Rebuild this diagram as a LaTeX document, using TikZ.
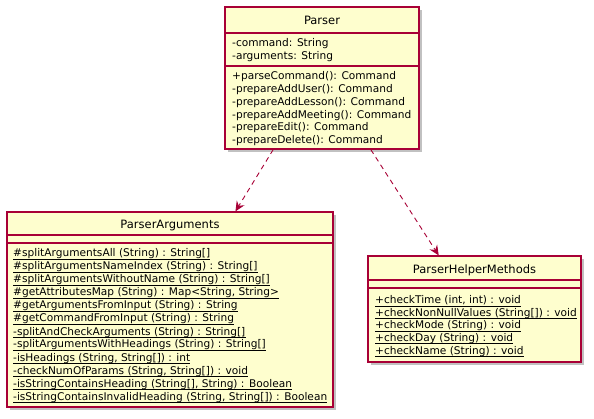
\documentclass[tikz,border=0pt]{standalone}
\usepackage{fontspec}
\newfontfamily\umlfont{DejaVu Sans}
\usetikzlibrary{shadows,arrows.meta,calc}
\definecolor{umlfill}{HTML}{FEFECE}
\definecolor{umlline}{HTML}{A80036}

\begin{document}
\begin{tikzpicture}[
		x=1pt, y=-1pt,
		classbox/.style={rectangle, draw=umlline, fill=umlfill, line width=1.2pt, inner sep=0pt,
			drop shadow={shadow xshift=3pt, shadow yshift=-3pt, opacity=0.4, fill=black!60}},
		compsep/.style={draw=umlline, line width=1.2pt},
		classname/.style={anchor=base, inner sep=0pt, font=\umlfont\fontsize{11.5}{14}\selectfont},
		member/.style={anchor=base west, inner sep=0pt, font=\umlfont\fontsize{10.6}{13}\selectfont},
		static/.style={line width=0.8pt},
		depend/.style={draw=umlline, line width=0.9pt, dash pattern=on 5pt off 4pt,
			-{Stealth[length=10pt,width=9pt,inset=3.5pt]}}
		]
		\fill[white] (0,0) rectangle (594,419);
		\useasboundingbox (0,0) rectangle (594,419);

		\node[classbox, minimum width=194pt, minimum height=142pt] (parser) at (322,78) {};
		\node[classbox, minimum width=326pt, minimum height=195pt] (args) at (170,309.5) {};
		\node[classbox, minimum width=213pt, minimum height=106pt] (helper) at (474.5,309) {};

		\draw[compsep] (parser.west |- 0,33) -- (parser.east |- 0,33);
		\draw[compsep] (parser.west |- 0,66) -- (parser.east |- 0,66);
		\draw[compsep] (args.west |- 0,235) -- (args.east |- 0,235);
		\draw[compsep] (args.west |- 0,243) -- (args.east |- 0,243);
		\draw[compsep] (helper.west |- 0,280) -- (helper.east |- 0,280);
		\draw[compsep] (helper.west |- 0,288) -- (helper.east |- 0,288);

		\node[classname] (parser-name) at (parser.north |- 0,24.5) {Parser};
		\node[classname] (args-name) at (args.north |- 0,228.5) {ParserArguments};
		\node[classname] (helper-name) at (helper.north |- 0,273.5) {ParserHelperMethods};

		\foreach \txt [count=\i from 0] in {{-command: String}, {-arguments: String}}
			\node[member] (parser-attr-\i) at (232,{46.5+12.7*\i}) {\txt};
		\foreach \txt [count=\i from 0] in {{+parseCommand(): Command}, {-prepareAddUser(): Command},
				{-prepareAddLesson(): Command}, {-prepareAddMeeting(): Command},
				{-prepareEdit(): Command}, {-prepareDelete(): Command}}
			\node[member] (parser-op-\i) at (232,{80+12.7*\i}) {\txt};

		\foreach \txt [count=\i from 0] in {{\#splitArgumentsAll (String) : String[]},
				{\#splitArgumentsNameIndex (String) : String[]},
				{\#splitArgumentsWithoutName (String) : String[]},
				{\#getAttributesMap (String) : Map<String, String>},
				{\#getArgumentsFromInput (String) : String},
				{\#getCommandFromInput (String) : String},
				{-splitAndCheckArguments (String) : String[]},
				{-splitArgumentsWithHeadings (String) : String[]},
				{-isHeadings (String, String[]) : int},
				{-checkNumOfParams (String, String[]) : void},
				{-isStringContainsHeading (String[], String) : Boolean},
				{-isStringContainsInvalidHeading (String, String[]) : Boolean}}
			{
			\node[member] (args-op-\i) at (13,{257+13*\i}) {\txt};
			\draw[static] ([yshift=-2pt]args-op-\i.base west) -- ([yshift=-2pt]args-op-\i.base east);
			}

		\foreach \txt [count=\i from 0] in {{+checkTime (int, int) : void},
				{+checkNonNullValues (String[]) : void},
				{+checkMode (String) : void},
				{+checkDay (String) : void},
				{+checkName (String) : void}}
			{
			\node[member] (helper-op-\i) at (375,{304+12.5*\i}) {\txt};
			\draw[static] ([yshift=-2pt]helper-op-\i.base west) -- ([yshift=-2pt]helper-op-\i.base east);
			}

		\draw[depend] ($(parser.south west)!0.25!(parser.south east)$) -- ($(args.north west)!0.7!(args.north east)$);
		\draw[depend] ($(parser.south west)!0.75!(parser.south east)$) -- ($(helper.north west)!0.333!(helper.north east)$);
	\end{tikzpicture}
\end{document}
